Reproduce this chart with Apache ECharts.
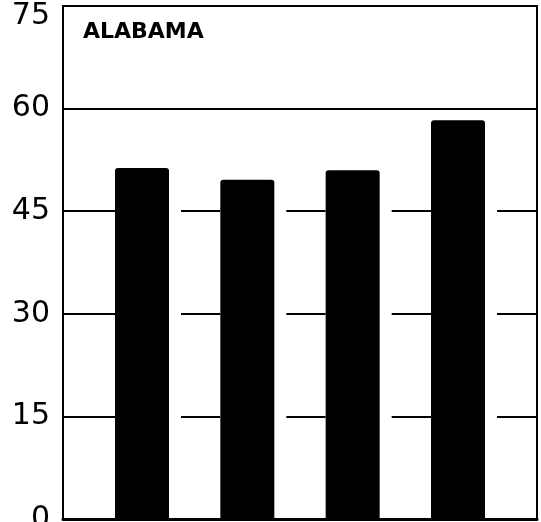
<!DOCTYPE html>
<html>
<head>
<meta charset="utf-8">
<script src="https://cdn.jsdelivr.net/npm/echarts@6/dist/echarts.min.js"></script>
<style>
  html, body { margin: 0; padding: 0; background: #fff; }
  #main { width: 541px; height: 522px; }
</style>
</head>
<body>
<div id="main"></div>
<script>
// data
var categories = ['1', '2', '3', '4'];
var values = [51.3, 49.6, 51.0, 58.3];
var yTicks = [0, 15, 30, 45, 60, 75];
var title = 'ALABAMA';

var chart = echarts.init(document.getElementById('main'));

// bars sit on a value x axis so they can be spaced like the original
var points = categories.map(function (c, i) {
  return [i + 1, values[i]];
});

var option = {
  backgroundColor: '#ffffff',
  animation: false,
  title: {
    text: title,
    left: 83,
    top: 21,
    padding: 0,
    textStyle: {
      fontFamily: 'DejaVu Sans',
      fontWeight: 'bold',
      fontSize: 22,
      color: '#000'
    }
  },
  grid: {
    left: 63,
    top: 6,
    right: 4,
    bottom: 3,
    outerBoundsMode: 'none',
    containLabel: false,
    show: true,
    borderColor: '#000',
    borderWidth: 2,
    backgroundColor: 'transparent'
  },
  xAxis: {
    type: 'value',
    min: 0.25,
    max: 4.75,
    z: 5,
    axisLine: { show: true, lineStyle: { color: '#000', width: 3 } },
    axisTick: { show: false },
    axisLabel: { show: false },
    splitLine: { show: false }
  },
  yAxis: {
    type: 'value',
    min: yTicks[0],
    max: yTicks[yTicks.length - 1],
    interval: 15,
    axisLine: { show: true, lineStyle: { color: '#000', width: 2 } },
    axisTick: { show: false },
    axisLabel: {
      fontFamily: 'DejaVu Sans',
      fontSize: 30,
      color: '#000',
      margin: 13,
      formatter: function (v) {
        // top label sits a bit below its line in the original
        return v === 75 ? '{top|' + v + '}' : String(v);
      },
      rich: {
        top: { fontFamily: 'DejaVu Sans', fontSize: 30, color: '#000', padding: [20, 0, 0, 0] }
      }
    },
    splitLine: { show: true, lineStyle: { color: '#000', width: 2 } }
  },
  series: [
    {
      // white halo to break the gridlines around each bar
      type: 'bar',
      data: points,
      barWidth: 66,
      silent: true,
      itemStyle: { color: '#ffffff' }
    },
    {
      type: 'bar',
      data: points,
      barWidth: 54,
      barGap: '-100%',
      itemStyle: { color: '#000000', borderRadius: [3, 3, 0, 0] }
    }
  ]
};

chart.setOption(option);
</script>
</body>
</html>
